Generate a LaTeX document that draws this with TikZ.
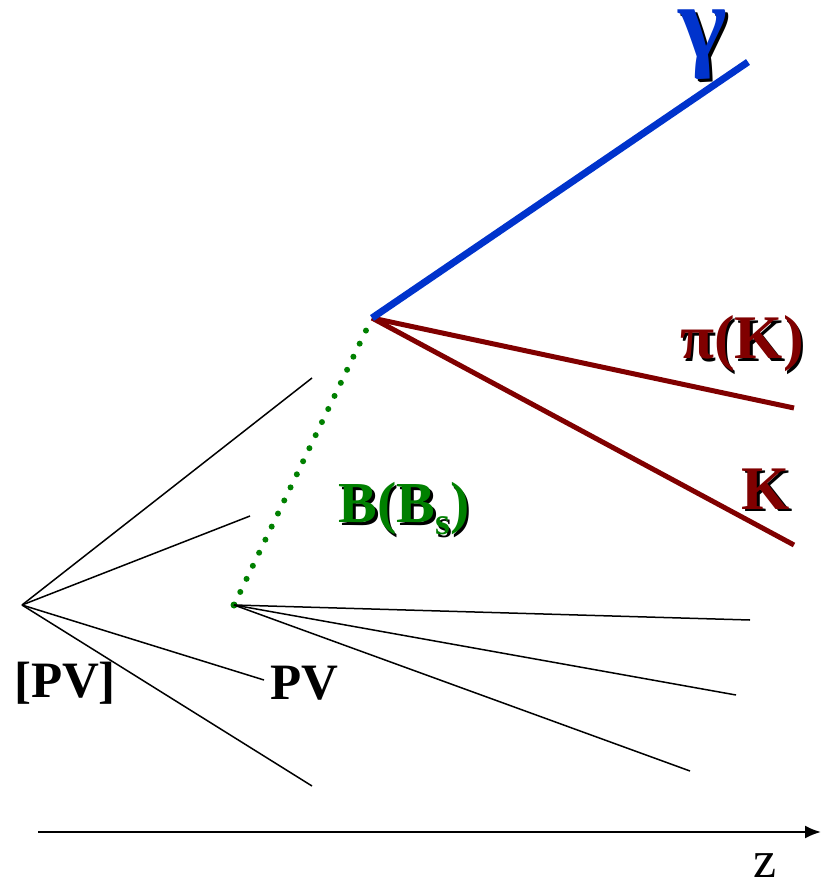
\documentclass[tikz,border=0pt]{standalone}
\usepackage{fontspec}
\setmainfont{Liberation Serif}
\usetikzlibrary{arrows.meta}
\definecolor{gblue}{RGB}{0,51,204}
\definecolor{kred}{RGB}{128,0,0}
\definecolor{bgreen}{RGB}{0,128,0}
\newcommand{\shtxt}[2]{\makebox[0pt][l]{\hspace{2.5pt}\raisebox{-2.5pt}{\color{black}#2}}{\color{#1}#2}}
\tikzset{
  track/.style={line width=1.5pt, black},
  photon/.style={line width=7pt, gblue},
  hadron/.style={line width=5pt, kred},
  bflight/.style={line width=6pt, bgreen, line cap=round, dash pattern=on 0pt off 14.5pt},
  lab/.style={inner sep=0pt, font=\bfseries},
}
\begin{document}
\begin{tikzpicture}[x=1pt,y=-1pt]
\useasboundingbox (0,0) rectangle (821,880);
% vertices
\coordinate (dv) at (372,318);
\coordinate (pv) at (234,605);
\coordinate (opv) at (22,605);
% endpoints
\coordinate (g) at (748,62);
\coordinate (p) at (794,408);
\coordinate (k) at (794,545);
\coordinate (o1) at (312,378);
\coordinate (o2) at (250,516);
\coordinate (o3) at (264,680);
\coordinate (o4) at (312,786);
\coordinate (t1) at (750,620);
\coordinate (t2) at (736,695);
\coordinate (t3) at (690,771);
\coordinate (za) at (38,832);
\coordinate (zb) at (821,832);
% B flight
\draw[bflight] (pv) -- (dv);
\fill[bgreen] (pv) circle (3.5pt);
% tracks
\foreach \e in {o1,o2,o3,o4} \draw[track] (opv) -- (\e);
\foreach \e in {t1,t2,t3} \draw[track] (pv) -- (\e);
\draw[hadron] (dv) -- (p);
\draw[hadron] (dv) -- (k);
\draw[photon] (dv) -- (g);
% axis
\draw[line width=2pt, -{Latex[length=16pt,width=13pt]}] (za) -- (zb);
% labels
\node[lab, anchor=base, font=\bfseries\fontsize{104}{104}\selectfont] (lg) at (703,58) {\smash{\shtxt{gblue}{γ}}};
\node[lab, font=\bfseries\fontsize{62}{62}\selectfont] (lpk) at (742,345) {\shtxt{kred}{π(K)}};
\node[lab, font=\bfseries\fontsize{62}{62}\selectfont] (lk) at (766,490) {\shtxt{kred}{K}};
\node[lab, font=\bfseries\fontsize{58}{58}\selectfont] (lb) at (404,510) {\shtxt{bgreen}{B(B\raisebox{-12pt}{\fontsize{38}{38}\selectfont s})}};
\node[lab, font=\bfseries\fontsize{51}{51}\selectfont] (lopv) at (65,683) {[PV]};
\node[lab, font=\bfseries\fontsize{51}{51}\selectfont] (lpv) at (304,683) {PV};
\node[inner sep=0pt, anchor=base, font=\fontsize{52}{52}\selectfont] (lz) at (765,877) {\smash{z}};
\end{tikzpicture}
\end{document}
